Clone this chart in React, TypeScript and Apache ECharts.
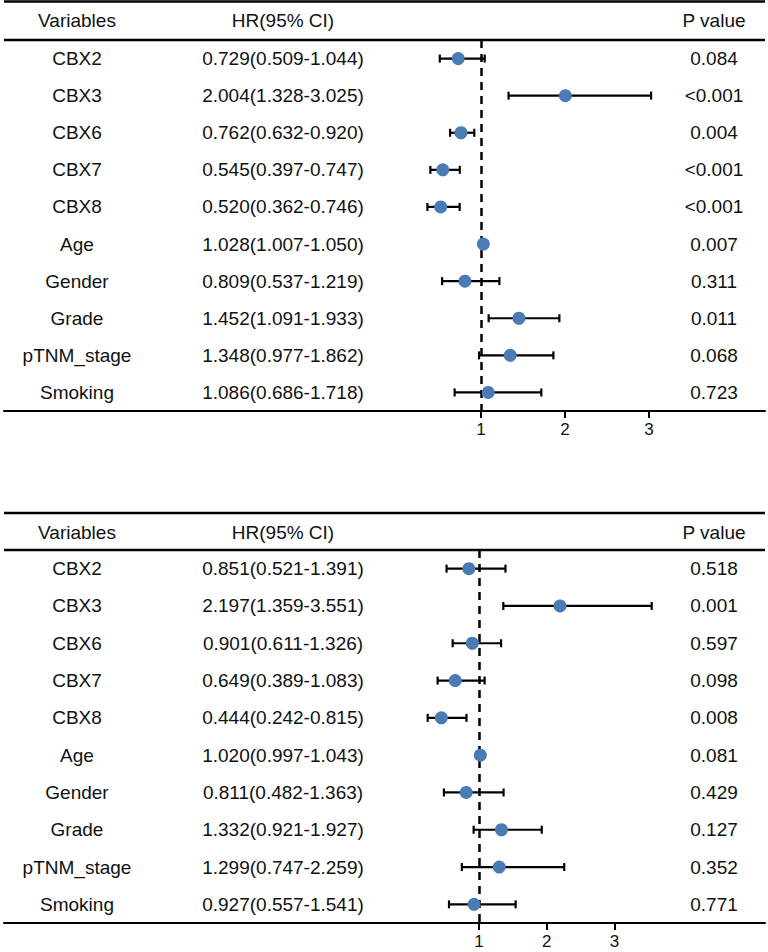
import React, { useEffect, useRef } from "react";
import * as echarts from "echarts";

const variables = ["CBX2", "CBX3", "CBX6", "CBX7", "CBX8", "Age", "Gender", "Grade", "pTNM_stage", "Smoking"];

const hrTop = [0.729, 2.004, 0.762, 0.545, 0.52, 1.028, 0.809, 1.452, 1.348, 1.086];
const lowTop = [0.509, 1.328, 0.632, 0.397, 0.362, 1.007, 0.537, 1.091, 0.977, 0.686];
const highTop = [1.044, 3.025, 0.92, 0.747, 0.746, 1.05, 1.219, 1.933, 1.862, 1.718];
const pTop = ["0.084", "<0.001", "0.004", "<0.001", "<0.001", "0.007", "0.311", "0.011", "0.068", "0.723"];

const hrBottom = [0.851, 2.197, 0.901, 0.649, 0.444, 1.02, 0.811, 1.332, 1.299, 0.927];
const lowBottom = [0.521, 1.359, 0.611, 0.389, 0.242, 0.997, 0.482, 0.921, 0.747, 0.557];
const highBottom = [1.391, 3.551, 1.326, 1.083, 0.815, 1.043, 1.363, 1.927, 2.259, 1.541];
const pBottom = ["0.518", "0.001", "0.597", "0.098", "0.008", "0.081", "0.429", "0.127", "0.352", "0.771"];

const xTicks = [1, 2, 3];
const headers = ["Variables", "HR(95% CI)", "P value"];

const FONT = "'Liberation Sans', Arial, Helvetica, sans-serif";
const DOT = "#4b7bb4";

export default function App() {
  const ref = useRef<HTMLDivElement>(null);
  useEffect(() => {
    if (!ref.current) return;
    const chart = echarts.init(ref.current, null, { renderer: "svg" });

    const GL = 4;
    const GW = 761;
    const panels = [
      { top: 40, height: 371, hr: hrTop, lo: lowTop, hi: highTop, p: pTop, one: 481, unit: 84, lineTop: 1.5, headY: 20 },
      { top: 550, height: 373, hr: hrBottom, lo: lowBottom, hi: highBottom, p: pBottom, one: 479, unit: 67.7, lineTop: 513, headY: 532 },
    ];

    const grids: any[] = [];
    const xAxes: any[] = [];
    const yAxes: any[] = [];
    const series: any[] = [];
    const graphics: any[] = [];

    const labelStyle = { fontFamily: FONT, fontSize: 19, color: "#111" };

    panels.forEach((pn, k) => {
      grids.push({ left: GL, width: GW, top: pn.top, height: pn.height, containLabel: false });
      const min = 1 - (pn.one - GL) / pn.unit;
      const max = 1 + (GL + GW - pn.one) / pn.unit;
      xAxes.push({
        type: "value",
        gridIndex: k,
        min,
        max,
        axisLine: { show: true, onZero: false, lineStyle: { color: "#000", width: 2 } },
        axisTick: { show: true, customValues: xTicks, length: 7, lineStyle: { color: "#000", width: 2 } },
        axisLabel: { show: true, customValues: xTicks, margin: 10, fontFamily: FONT, fontSize: 17, color: "#111" },
        splitLine: { show: false },
      });
      const base = {
        type: "category",
        gridIndex: k,
        data: variables,
        inverse: true,
        axisLine: { show: false },
        axisTick: { show: false },
        splitLine: { show: false },
      };
      const yi = yAxes.length;
      yAxes.push({ ...base, position: "left", axisLabel: { ...labelStyle, align: "center", margin: GL - 77 } });
      yAxes.push({
        ...base,
        position: "left",
        axisLabel: {
          ...labelStyle,
          align: "center",
          margin: GL - 283,
          formatter: (_v: string, i: number) =>
            `${pn.hr[i].toFixed(3)}(${pn.lo[i].toFixed(3)}-${pn.hi[i].toFixed(3)})`,
        },
      });
      yAxes.push({
        ...base,
        position: "right",
        axisLabel: { ...labelStyle, align: "center", margin: 714 - (GL + GW), formatter: (_v: string, i: number) => pn.p[i] },
      });

      series.push({
        type: "custom",
        xAxisIndex: k,
        yAxisIndex: yi,
        z: 2,
        data: variables.map((v, i) => [pn.lo[i], pn.hi[i], i]),
        renderItem: (params: any, api: any) => {
          const a = api.coord([api.value(0), api.value(2)]);
          const b = api.coord([api.value(1), api.value(2)]);
          const h = 4;
          const st = { stroke: "#000", lineWidth: 2.2 };
          return {
            type: "group",
            children: [
              { type: "line", shape: { x1: a[0], y1: a[1], x2: b[0], y2: b[1] }, style: st },
              { type: "line", shape: { x1: a[0], y1: a[1] - h, x2: a[0], y2: a[1] + h }, style: st },
              { type: "line", shape: { x1: b[0], y1: b[1] - h, x2: b[0], y2: b[1] + h }, style: st },
            ],
          };
        },
      });
      series.push({
        type: "scatter",
        xAxisIndex: k,
        yAxisIndex: yi,
        z: 3,
        symbol: "circle",
        symbolSize: 13,
        itemStyle: { color: DOT, opacity: 1 },
        data: variables.map((v, i) => [pn.hr[i], i]),
        markLine: {
          silent: true,
          symbol: "none",
          label: { show: false },
          lineStyle: { color: "#000", width: 2.5, type: [8, 6] },
          data: [{ xAxis: 1 }],
          z: 1,
        },
      });

      graphics.push({
        type: "line",
        shape: { x1: GL, y1: pn.lineTop, x2: GL + GW, y2: pn.lineTop },
        style: { stroke: "#000", lineWidth: 2.5 },
      });
      graphics.push({
        type: "line",
        shape: { x1: GL, y1: pn.top, x2: GL + GW, y2: pn.top },
        style: { stroke: "#000", lineWidth: 2.5 },
      });
      const hx = [77, 283, 714];
      headers.forEach((h, j) => {
        graphics.push({
          type: "text",
          x: hx[j],
          y: pn.headY,
          style: { text: h, fontFamily: FONT, fontSize: 19, fill: "#111", textAlign: "center", textVerticalAlign: "middle" },
        });
      });
    });

    chart.setOption({
      animation: false,
      backgroundColor: "#fff",
      grid: grids,
      xAxis: xAxes,
      yAxis: yAxes,
      series,
      graphic: graphics,
    });
    return () => chart.dispose();
  }, []);

  return <div ref={ref} style={{ position: "fixed", left: 0, top: 0, width: 768, height: 952 }} />;
}
